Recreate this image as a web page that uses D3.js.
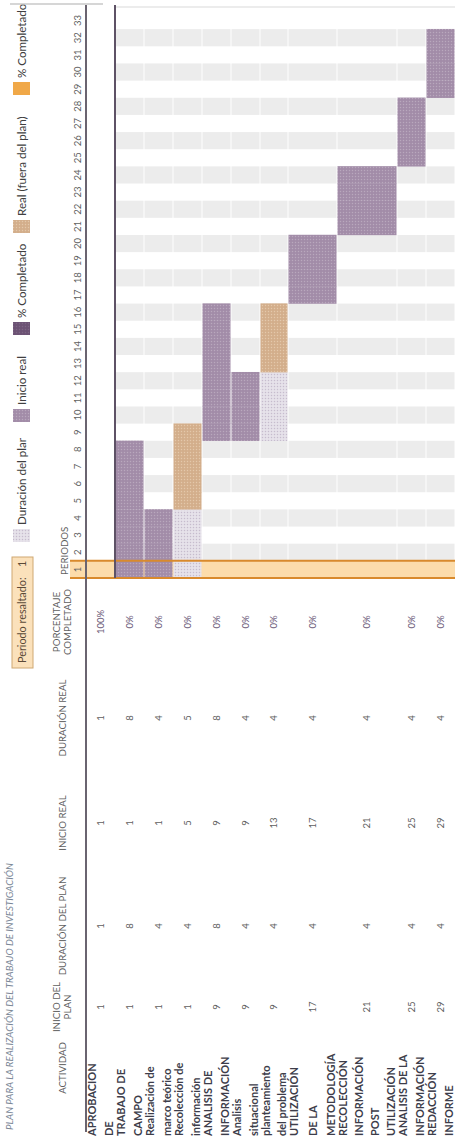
<!DOCTYPE html>
<html><head><meta charset="utf-8">
<script src="https://cdn.jsdelivr.net/npm/d3@7"></script>
<style>body{margin:0;background:#fff}svg{display:block}</style>
</head><body>
<script>
// ---------- DATA ----------
const title = "PLAN PARA LA REALIZACIÓN DEL TRABAJO DE INVESTIGACIÓN";
const activities = [
  ["APROBACION","DE"],["TRABAJO DE","CAMPO"],["Realización de","marco teórico"],
  ["Recolección de","información"],["ANALISIS DE","INFORMACIÓN"],["Analisis","situacional"],
  ["planteamiento","del problema"],["UTILIZACIÓN","DE LA","METODOLOGÍA"],
  ["RECOLECCIÓN","INFORMACIÓN","POST","UTILIZACIÓN"],["ANALISIS DE LA","INFORMACIÓN"],
  ["REDACCIÓN","INFORME"]];
const planStart = [1,1,1,1,9,9,9,17,21,25,29];
const planDur   = [1,8,4,4,8,4,4,4,4,4,4];
const realStart = [1,1,1,5,9,9,13,17,21,25,29];
const realDur   = [1,8,4,5,8,4,4,4,4,4,4];
const pctDone   = [100,0,0,0,0,0,0,0,0,0,0];
const periods = [1,2,3,4,5,6,7,8,9,10,11,12,13,14,15,16,17,18,19,20,21,22,23,24,25,26,27,28,29,30,31,32,33];
const highlighted = 1;
const columnHeaders = [["ACTIVIDAD"],["INICIO DEL","PLAN"],["DURACIÓN DEL PLAN"],["INICIO REAL"],["DURACIÓN REAL"],["PORCENTAJE","COMPLETADO"]];
const legendLabels = ["Duración del plan","Inicio real","% Completado","Real (fuera del plan)","% Completado"];
const legendKeys = ["plan","real","pct","out","hl"];
const periodLabel = "PERIODOS";
const highlightLabel = "Periodo resaltado:";

// ---------- LAYOUT ----------
const W = 1138, H = 464;
const rowHeights = [29,29,29,29,29,29,28,49,60,29,29];
const tableTop = 86;
const rowTops = rowHeights.map((h,i)=> tableTop + d3.sum(rowHeights.slice(0,i)));
const chartTop = 115, chartBottom = tableTop + d3.sum(rowHeights);
const colCenters = [70,131,212,315,420,516];
const font = "Lato, 'Open Sans', sans-serif";

const svg = d3.select("body").append("svg").attr("width", H).attr("height", W);
const g = svg.append("g").attr("transform", `translate(0,${W}) rotate(-90)`);

const x = d3.scaleBand().domain(periods).range([560, 1126]).padding(0);

// patterns
const defs = svg.append("defs");
function pat(id, base, dot){
  const p = defs.append("pattern").attr("id", id).attr("patternUnits","userSpaceOnUse").attr("width",3).attr("height",3);
  p.append("rect").attr("width",3).attr("height",3).attr("fill",base);
  p.append("circle").attr("cx",1.5).attr("cy",1.5).attr("r",0.75).attr("fill",dot);
}
pat("p-real","#a28ca8","#b9a8bd");
pat("p-plan","#e6e2ea","#c6bccd");
pat("p-out","#d3ae8b","#e4c8aa");
pat("p-pct","#6c5274","#7d6584");
const fills = {plan:"url(#p-plan)", real:"url(#p-real)", out:"url(#p-out)", pct:"url(#p-pct)", hl:"#f0a848"};

defs.append("clipPath").attr("id","chartclip").append("rect")
  .attr("x",555).attr("y",chartTop).attr("width",600).attr("height",chartBottom-chartTop);
defs.append("clipPath").attr("id","legclip").append("rect")
  .attr("x",600).attr("y",0).attr("width",100).attr("height",40);

// title
g.append("text").attr("x",8).attr("y",13).text(title)
  .attr("font-family",font).attr("font-style","italic").attr("font-size",9.7).attr("fill","#7b8797");

// legend
const hlBox = g.append("g");
hlBox.append("rect").attr("x",470).attr("y",12).attr("width",111).attr("height",21)
  .attr("fill","#fbe1bb").attr("stroke","#cfa872").attr("stroke-width",1);
hlBox.append("text").attr("x",475).attr("y",26).text(highlightLabel)
  .attr("font-family",font).attr("font-size",10.8).attr("fill","#5b4a38");
hlBox.append("text").attr("x",571).attr("y",26).text(highlighted)
  .attr("font-family",font).attr("font-size",10.8).attr("fill","#5b4a38");

const legendX = [596,716,803,905,1043];
legendKeys.forEach((k,i)=>{
  g.append("rect").attr("x",legendX[i]).attr("y",13).attr("width",13).attr("height",17).attr("fill",fills[k]);
  const t = g.append("text").attr("x",legendX[i]+17).attr("y",25.5).text(legendLabels[i])
    .attr("font-family",font).attr("font-size",11.6).attr("fill","#404040");
  if(i===0) t.attr("clip-path","url(#legclip)");
});

// column headers
columnHeaders.forEach((lines,i)=>{
  lines.forEach((l,j)=>{
    g.append("text").attr("x",colCenters[i]).attr("y", lines.length===1 ? 66 : 60 + j*11)
      .attr("text-anchor","middle").text(l)
      .attr("font-family",font).attr("font-size",9.7).attr("fill","#5f5f5f");
  });
});
g.append("text").attr("x",563).attr("y",68).text(periodLabel)
  .attr("font-family",font).attr("font-size",9.7).attr("fill","#5f5f5f");

// highlight band (under bars)
g.append("rect").attr("x",x(highlighted)).attr("y",70).attr("width",x.bandwidth())
  .attr("height",chartBottom-70).attr("fill","#fcdcab");

// cells
const chart = g.append("g").attr("clip-path","url(#chartclip)");
const cells = [];
rowHeights.forEach((h,i)=>{
  periods.forEach(p=>{
    const inPlan = p>=planStart[i] && p<planStart[i]+planDur[i];
    const inReal = p>=realStart[i] && p<realStart[i]+realDur[i];
    const inPct = inReal && p < realStart[i] + realDur[i]*pctDone[i]/100;
    let type = null;
    if(inPct) type="pct"; else if(inReal && inPlan) type="real"; else if(inReal) type="out"; else if(inPlan) type="plan";
    cells.push({row:i,p,type});
  });
});
chart.selectAll("rect.stripe").data(cells.filter(c=>c.p%2===0 && c.p!==highlighted)).join("rect")
  .attr("class","stripe").attr("x",d=>x(d.p)).attr("y",d=>rowTops[d.row]+0.5)
  .attr("width",x.bandwidth()).attr("height",d=>rowHeights[d.row]-1).attr("fill","#ececec");
chart.selectAll("rect.bar").data(cells.filter(c=>c.type)).join("rect")
  .attr("class","bar").attr("x",d=>x(d.p)-0.2).attr("y",d=>rowTops[d.row]+0.5)
  .attr("width",x.bandwidth()+0.4).attr("height",d=>rowHeights[d.row]-1).attr("fill",d=>fills[d.type]);

// highlight border lines
[x(highlighted), x(highlighted)+x.bandwidth()].forEach(v=>{
  g.append("line").attr("x1",v).attr("x2",v).attr("y1",70).attr("y2",chartBottom)
    .attr("stroke","#d98a2c").attr("stroke-width",2);
});

// period axis
const ax = g.append("g").attr("transform","translate(0,81)").call(d3.axisTop(x).tickSize(0).tickPadding(0));
ax.select(".domain").remove();
ax.selectAll("text").attr("font-family",font).attr("font-size",9.5).attr("fill","#5f5f5f");

// border lines
g.append("line").attr("x1",6).attr("x2",1133).attr("y1",tableTop).attr("y2",tableTop)
  .attr("stroke","#6a6470").attr("stroke-width",2);
g.append("line").attr("x1",560).attr("x2",1133).attr("y1",chartTop).attr("y2",chartTop)
  .attr("stroke","#5e5266").attr("stroke-width",2);
g.append("line").attr("x1",1134).attr("x2",1134).attr("y1",10).attr("y2",103)
  .attr("stroke","#c8c8c8").attr("stroke-width",1.5);
g.append("line").attr("x1",1131).attr("x2",1131).attr("y1",116).attr("y2",chartBottom)
  .attr("stroke","#e6e6e6").attr("stroke-width",1.5);

// table rows
const cols = [planStart, planDur, realStart, realDur];
activities.forEach((lines,i)=>{
  const top = rowTops[i], bot = top + rowHeights[i];
  const cy = (top+bot)/2;
  const n = lines.length;
  const step = n>1 ? (bot-top-12)/(n-1) : 0;
  lines.forEach((l,j)=>{
    const yy = n>1 ? top+6+j*step : cy;
    g.append("text").attr("x",2).attr("y",yy+4).text(l)
      .attr("font-family",font).attr("font-weight","bold").attr("font-size",11).attr("fill","#3d3d4a");
  });
  cols.forEach((arr,c)=>{
    g.append("text").attr("x",colCenters[c+1]).attr("y",cy+3).attr("text-anchor","middle").text(arr[i])
      .attr("font-family",font).attr("font-size",9.5).attr("fill","#606060");
  });
  g.append("text").attr("x",colCenters[5]).attr("y",cy+3).attr("text-anchor","middle").text(pctDone[i]+"%")
    .attr("font-family",font).attr("font-size",9.5).attr("fill","#6d5c7a");
});
</script>
</body></html>
